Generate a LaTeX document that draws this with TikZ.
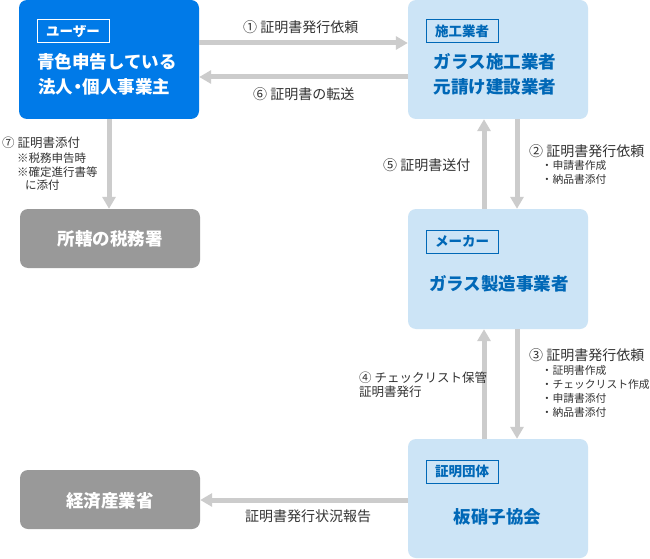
\documentclass[tikz,border=0pt]{standalone}
\usepackage{fontspec}
\newfontfamily\jp{Noto Sans CJK JP}
\usetikzlibrary{arrows.meta}
\definecolor{userblue}{RGB}{0,122,232}
\definecolor{lightblue}{RGB}{204,228,246}
\definecolor{darkblue}{RGB}{0,104,183}
\definecolor{boxgray}{RGB}{153,153,153}
\definecolor{arrowgray}{RGB}{204,204,204}
\definecolor{txt}{RGB}{51,51,51}
\tikzset{
  box/.style={rounded corners=8pt, minimum width=180pt, inner sep=0pt, draw=none},
  userbox/.style={box, fill=userblue, minimum height=119pt},
  lbox/.style={box, fill=lightblue, minimum height=119pt},
  gbox/.style={box, fill=boxgray, minimum height=59pt},
  tagbox/.style={draw, line width=1pt, minimum width=72pt, minimum height=23pt, inner sep=0pt,
    font=\jp\bfseries\fontsize{13.5}{13.5}\selectfont, text height=11.9pt, text depth=1.6pt},
  title/.style={inner sep=0pt, font=\jp\bfseries\fontsize{17.5}{17.5}\selectfont,
    text height=15.4pt, text depth=2.1pt},
  labA/.style={inner sep=0pt, anchor=west, text=txt, font=\jp\fontsize{14}{14}\selectfont,
    text height=12.3pt, text depth=1.7pt},
  labB/.style={inner sep=0pt, anchor=west, text=txt, font=\jp\fontsize{12.5}{12.5}\selectfont,
    text height=11pt, text depth=1.5pt},
  labC/.style={inner sep=0pt, anchor=west, text=txt, font=\jp\fontsize{11.5}{11.5}\selectfont,
    text height=10.1pt, text depth=1.4pt},
  labD/.style={inner sep=0pt, anchor=west, text=txt, font=\jp\fontsize{10.8}{10.8}\selectfont,
    text height=9.5pt, text depth=1.3pt},
  arr/.style={draw=arrowgray, line width=5pt, -{Triangle[width=13pt,length=12pt]}}
}
\begin{document}
\begin{tikzpicture}[x=1pt,y=-1pt]
\useasboundingbox (0,0) rectangle (650,559);
\fill[white] (0,0) rectangle (650,559);
% boxes
\node[userbox] (user) at (109,59.5) {};
\node[lbox] (sekou) at (498,59.5) {};
\node[gbox] (tax) at (110,238.5) {};
\node[lbox, minimum height=120pt] (maker) at (498,269) {};
\node[gbox] (meti) at (110,499.5) {};
\node[lbox] (ita) at (498,498.5) {};
% tags
\node[tagbox, draw=white, text=white] (usertag) at (73,31) {ユーザー};
\node[tagbox, draw=darkblue, text=darkblue] (sekoutag) at (462,31) {施工業者};
\node[tagbox, draw=darkblue, text=darkblue] (makertag) at (462,241.5) {メーカー};
\node[tagbox, draw=darkblue, text=darkblue] (itatag) at (462,471.5) {証明団体};
% titles
\node[title, text=white] (usert1) at (107,62) {青色申告している};
\node[title, text=white] (usert2) at (104,87) {法人\kern-4pt・\kern-4pt個人事業主};
\node[title, text=darkblue] (sekout1) at (495,62) {ガラス施工業者};
\node[title, text=darkblue] (sekout2) at (495,87) {元請け建設業者};
\node[title, text=darkblue] (makert) at (499,284) {ガラス製造事業者};
\node[title, text=white] (taxt) at (110,238.5) {所轄の税務署};
\node[title, text=white] (metit) at (110,501) {経済産業省};
\node[title, text=darkblue] (itat) at (497.5,517) {板硝子協会};
% arrows
\draw[arr] (user.east |- 0,43) -- (sekou.west |- 0,43);
\draw[arr] (sekou.west |- 0,77) -- (user.east |- 0,77);
\draw[arr] (user.south) -- (user.south |- tax.north);
\draw[arr] (sekou.south -| 517,0) -- (maker.north -| 517,0);
\draw[arr] (maker.north -| 484,0) -- (sekou.south -| 484,0);
\draw[arr] (maker.south -| 517,0) -- (ita.north -| 517,0);
\draw[arr] (ita.north -| 484,0) -- (maker.south -| 484,0);
\draw[arr] (ita.west |- 0,500) -- (meti.east |- 0,500);
% labels
\node[labA] (l1) at (243,27) {① 証明書発行依頼};
\node[labA] (l6) at (253,94) {⑥ 証明書の転送};
\node[labB] (l7) at (2,143) {⑦ 証明書添付};
\node[labC] (l7a) at (17,158) {※税務申告時};
\node[labC] (l7b) at (17,172) {※確定進行書等};
\node[labC] (l7c) at (25,185) {に添付};
\node[labA] (l5) at (383,165) {⑤ 証明書送付};
\node[labA] (l2) at (529,151) {② 証明書発行依頼};
\node[labD] (l2a) at (541.5,165) {・申請書作成};
\node[labD] (l2b) at (541.5,179) {・納品書添付};
\node[labA] (l3) at (529,355) {③ 証明書発行依頼};
\node[labD] (l3a) at (541.5,370) {・証明書作成};
\node[labD] (l3b) at (541.5,384) {・チェックリスト作成};
\node[labD] (l3c) at (541.5,398) {・申請書添付};
\node[labD] (l3d) at (541.5,412) {・納品書添付};
\node[labB] (l4) at (359,378) {④ チェックリスト保管};
\node[labB] (l4b) at (359,392) {証明書発行};
\node[labA] (lr) at (245,516) {証明書発行状況報告};
\end{tikzpicture}
\end{document}
